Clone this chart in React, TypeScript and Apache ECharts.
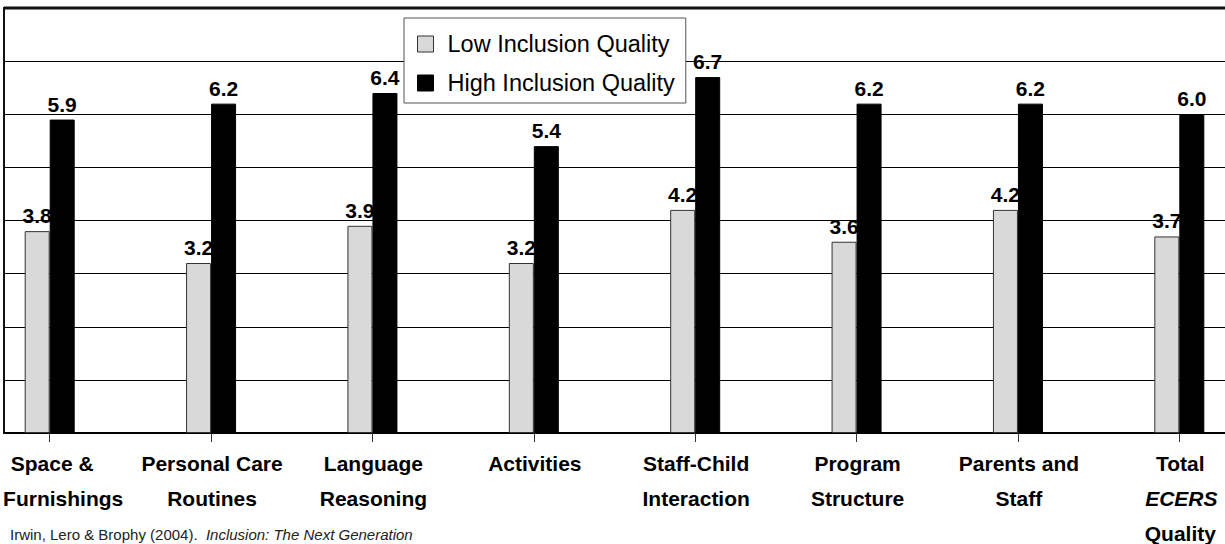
import React, { useEffect, useRef } from "react";
import * as echarts from "echarts";

const categories = [
  "Space &\nFurnishings",
  "Personal Care\nRoutines",
  "Language\nReasoning",
  "Activities",
  "Staff-Child\nInteraction",
  "Program\nStructure",
  "Parents and\nStaff",
  "Total\nECERS\nQuality",
];
const lowValues = [3.8, 3.2, 3.9, 3.2, 4.2, 3.6, 4.2, 3.7];
const highValues = [5.9, 6.2, 6.4, 5.4, 6.7, 6.2, 6.2, 6.0];
const seriesNames = ["Low Inclusion Quality", "High Inclusion Quality"];
const yMin = 0;
const yMax = 8;
const yInterval = 1;
const italicWords = ["ECERS"];
const footnoteAuthors = "Irwin, Lero & Brophy (2004).";
const footnoteTitle = "Inclusion: The Next Generation";

const FONT = "'Liberation Sans', Arial, Helvetica, sans-serif";
const OFFSET = 31; // chart canvas starts 31px left of the page

export default function App() {
  const ref = useRef<HTMLDivElement>(null);
  useEffect(() => {
    document.body.style.margin = "0";
    if (!ref.current) return;
    const chart = echarts.init(ref.current, null, { renderer: "svg" });
    const baseRich = {
      fontSize: 21,
      fontWeight: "bold",
      lineHeight: 35,
      color: "#000",
      fontFamily: FONT,
    };
    const valueLabel = {
      show: true,
      position: "top",
      distance: 5,
      formatter: (p: any) => Number(p.value).toFixed(1),
      fontSize: 21,
      fontWeight: "bold",
      color: "#000",
      fontFamily: FONT,
    };
    const option: any = {
      animation: false,
      backgroundColor: "#fff",
      grid: { left: 0, right: 0, top: 8, bottom: 111, containLabel: false },
      legend: {
        orient: "vertical",
        left: 404 + OFFSET,
        top: 18,
        itemWidth: 16,
        itemHeight: 16,
        itemGap: 15,
        padding: [14, 11, 8, 13],
        backgroundColor: "#fff",
        borderColor: "#555",
        borderWidth: 1,
        icon: "rect",
        textStyle: { fontSize: 23.5, color: "#000", fontFamily: FONT, padding: [0, 0, 0, 9] },
        data: [
          { name: seriesNames[0], itemStyle: { color: "#d9d9d9", borderColor: "#333", borderWidth: 1 } },
          { name: seriesNames[1], itemStyle: { color: "#000", borderColor: "#000", borderWidth: 1 } },
        ],
      },
      xAxis: {
        type: "category",
        data: categories,
        axisLine: { show: true, lineStyle: { color: "#000", width: 2 } },
        axisTick: { show: true, alignWithLabel: true, length: 9, lineStyle: { color: "#333", width: 1 } },
        axisLabel: {
          margin: 13,
          interval: 0,
          formatter: (value: string, idx: number) => {
            const lines = value.split("\n");
            return lines
              .map((ln, li) => {
                let style = italicWords.includes(ln) ? "i" : "b";
                if (idx === 0) style = li === 0 ? "f0" : "f1";
                return `{${style}|${ln}}`;
              })
              .join("\n");
          },
          rich: {
            b: { ...baseRich, padding: [0, 0, 0, 2] },
            i: { ...baseRich, fontStyle: "italic", padding: [0, 0, 0, 4] },
            f0: { ...baseRich, padding: [0, 0, 0, 5] },
            f1: { ...baseRich, padding: [0, 0, 0, 27] },
          },
        },
      },
      yAxis: {
        type: "value",
        min: yMin,
        max: yMax,
        interval: yInterval,
        axisLine: { show: false },
        axisTick: { show: false },
        axisLabel: { show: false },
        splitLine: { show: true, lineStyle: { color: "#000", width: 1 } },
      },
      series: [
        {
          name: seriesNames[0],
          type: "bar",
          data: lowValues,
          barWidth: 25,
          barGap: "0%",
          itemStyle: { color: "#d9d9d9", borderColor: "#333", borderWidth: 1 },
          label: valueLabel,
        },
        {
          name: seriesNames[1],
          type: "bar",
          data: highValues,
          barWidth: 25,
          barGap: "0%",
          itemStyle: { color: "#000", borderColor: "#000", borderWidth: 1 },
          label: valueLabel,
        },
      ],
      graphic: [
        {
          type: "rect",
          shape: { x: 0, y: 0, width: OFFSET + 3, height: 440 },
          style: { fill: "#fff" },
          z: 9,
        },
        {
          type: "line",
          shape: { x1: OFFSET + 4, y1: 8, x2: 1300, y2: 8 },
          style: { stroke: "#111", lineWidth: 3 },
          z: 10,
        },
        {
          type: "line",
          shape: { x1: OFFSET + 4, y1: 7, x2: OFFSET + 4, y2: 434 },
          style: { stroke: "#111", lineWidth: 2 },
          z: 10,
        },
        {
          type: "text",
          left: OFFSET + 10,
          top: 527,
          style: {
            text: `{n|${footnoteAuthors}  }{it|${footnoteTitle}}`,
            rich: {
              n: { fontSize: 15, fontFamily: FONT, fill: "#222" },
              it: { fontSize: 15, fontFamily: FONT, fill: "#222", fontStyle: "italic" },
            },
          },
        },
      ],
    };
    chart.setOption(option);
    return () => chart.dispose();
  }, []);
  return (
    <div style={{ position: "relative", width: 1225, height: 544, overflow: "hidden" }}>
      <div ref={ref} style={{ position: "absolute", left: -OFFSET, top: 0, width: 1225 + OFFSET + 35, height: 544 }} />
    </div>
  );
}
